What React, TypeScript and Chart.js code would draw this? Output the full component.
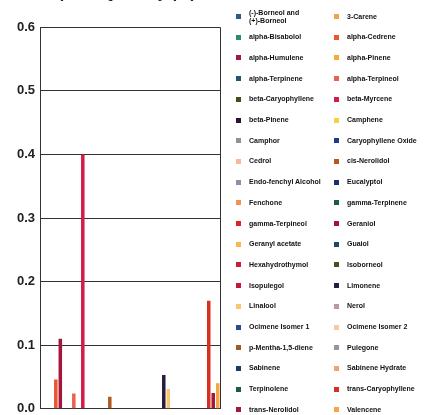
import React, { useEffect, useRef } from "react";
import { Chart, registerables } from "chart.js";

Chart.register(...registerables);

const categories = ["Terpenes"];

const terpeneNames = [
  "(-)-Borneol and\n(+)-Borneol", "3-Carene",
  "alpha-Bisabolol", "alpha-Cedrene",
  "alpha-Humulene", "alpha-Pinene",
  "alpha-Terpinene", "alpha-Terpineol",
  "beta-Caryophyllene", "beta-Myrcene",
  "beta-Pinene", "Camphene",
  "Camphor", "Caryophyllene Oxide",
  "Cedrol", "cis-Nerolidol",
  "Endo-fenchyl Alcohol", "Eucalyptol",
  "Fenchone", "gamma-Terpinene",
  "gamma-Terpineol", "Geraniol",
  "Geranyl acetate", "Guaiol",
  "Hexahydrothymol", "Isoborneol",
  "Isopulegol", "Limonene",
  "Linalool", "Nerol",
  "Ocimene Isomer 1", "Ocimene Isomer 2",
  "p-Mentha-1,5-diene", "Pulegone",
  "Sabinene", "Sabinene Hydrate",
  "Terpinolene", "trans-Caryophyllene",
  "trans-Nerolidol", "Valencene",
];

const terpeneValues = [
  0, 0,
  0, 0.046,
  0.11, 0,
  0, 0.024,
  0, 0.4,
  0, 0,
  0, 0,
  0, 0.019,
  0, 0,
  0, 0,
  0, 0,
  0, 0,
  0, 0,
  0, 0.053,
  0.031, 0,
  0, 0,
  0, 0,
  0, 0,
  0, 0.17,
  0.025, 0.04,
];

const terpeneColors = [
  "#2b5a8c", "#f5a04a",
  "#2a8a74", "#e8552e",
  "#a3163e", "#f6aa32",
  "#1f5670", "#e8624c",
  "#4a4a1a", "#d01e48",
  "#2a1232", "#f8d040",
  "#90909a", "#1c3c8a",
  "#f5b898", "#b05a22",
  "#8a90a8", "#1a3070",
  "#f59052", "#1a5a50",
  "#e02222", "#a21242",
  "#f8b84a", "#1a4a6a",
  "#c82032", "#4a5022",
  "#c01a3a", "#2a1a40",
  "#f8c870", "#b898a8",
  "#2a4a90", "#f8c8a0",
  "#9a5a2a", "#9098a8",
  "#1a3a6a", "#f5a072",
  "#1a5a48", "#d83020",
  "#a0183a", "#f6a444",
];

const yTicks = [0, 0.1, 0.2, 0.3, 0.4, 0.5, 0.6];

export default function App() {
  const canvasRef = useRef<HTMLCanvasElement | null>(null);

  useEffect(() => {
    const canvas = canvasRef.current;
    if (!canvas) return;
    const chart = new Chart(canvas, {
      type: "bar",
      data: {
        labels: categories,
        datasets: terpeneNames.map((name, i) => ({
          label: name.replace("\n", " "),
          data: [terpeneValues[i]],
          backgroundColor: terpeneColors[i],
          borderWidth: 0,
          categoryPercentage: 1,
          barPercentage: 0.78,
        })),
      },
      options: {
        responsive: false,
        animation: false,
        layout: { padding: { left: 12, right: 204, top: 0, bottom: 0 } },
        plugins: {
          legend: { display: false },
          tooltip: { enabled: false },
          title: {
            display: true,
            text: "Terpene Quantity (%)",
            color: "#222",
            font: { family: "Liberation Sans", size: 16, weight: "bold" },
            padding: { top: 2, bottom: 24 },
          },
        },
        scales: {
          x: {
            grid: { offset: true, color: "#333", lineWidth: 1, drawTicks: false },
            border: { display: true, color: "#333", width: 1 },
            ticks: {
              color: "#222",
              padding: 6,
              font: { family: "Liberation Sans", size: 11, weight: "bold" },
            },
          },
          y: {
            min: yTicks[0],
            max: yTicks[yTicks.length - 1],
            afterBuildTicks: (scale: any) => {
              scale.ticks = yTicks.map((v) => ({ value: v }));
            },
            grid: { color: "#333", lineWidth: 1, drawTicks: false },
            border: { display: true, color: "#333", width: 1 },
            ticks: {
              color: "#222",
              padding: 5,
              font: { family: "Liberation Sans", size: 13, weight: "bold" },
              callback: (v: any) => Number(v).toFixed(1),
            },
          },
        },
      },
    });
    return () => chart.destroy();
  }, []);

  return (
    <div
      style={{
        position: "absolute",
        left: 0,
        top: 0,
        width: 424,
        height: 415,
        overflow: "hidden",
        background: "#fff",
      }}
    >
      <div style={{ position: "absolute", left: 0, top: -18, width: 424, height: 452 }}>
        <canvas ref={canvasRef} width={424} height={452} style={{ width: 424, height: 452 }} />
      </div>
      {terpeneNames.map((name, i) => {
        const col = i % 2;
        const row = Math.floor(i / 2);
        const cy = 16.5 + row * 20.7;
        return (
          <div
            key={i}
            style={{
              position: "absolute",
              left: col === 0 ? 236 : 334,
              top: cy - 10,
              height: 20,
              display: "flex",
              alignItems: "center",
              fontFamily: "Liberation Sans",
              fontSize: 7,
              fontWeight: "bold",
              color: "#111",
              lineHeight: "8px",
              whiteSpace: "pre",
            }}
          >
            <span
              style={{
                display: "inline-block",
                width: 5,
                height: 5,
                background: terpeneColors[i],
                marginRight: 8,
                flex: "none",
              }}
            />
            <span>{name}</span>
          </div>
        );
      })}
    </div>
  );
}
